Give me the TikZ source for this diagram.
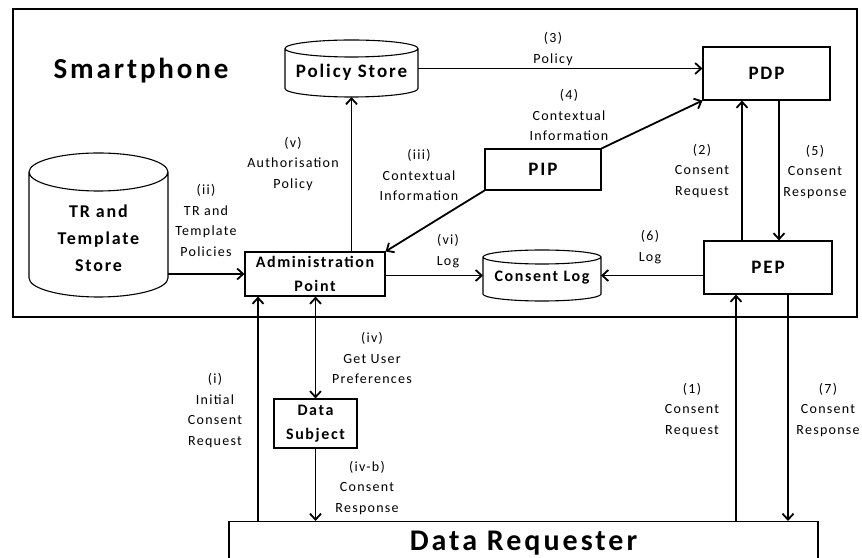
\documentclass[tikz,border=0pt]{standalone}
\usepackage{fontspec}
\setmainfont{Carlito}[LetterSpace=10]
\newfontfamily\lblfont{Carlito}[LetterSpace=9]
\usetikzlibrary{arrows.meta}

% vertical drum: left x, right x, top y, bottom y, rim radius
\newcommand\drumshape[5]{%
  \draw[line width=1.1pt] (#1,#3-#5) -- (#1,#4+#5)
    arc[start angle=180,end angle=360,x radius={(#2-#1)/2},y radius=#5]
    -- (#2,#3-#5)
    arc[start angle=0,end angle=360,x radius={(#2-#1)/2},y radius=#5];}

\begin{document}
\begin{tikzpicture}[x=1pt,y=1pt,
  box/.style={draw,line width=1.1pt,inner sep=0pt,align=center,
    font=\bfseries\fontsize{19}{21}\selectfont},
  smallbox/.style={box,font=\bfseries\fontsize{16}{24}\selectfont},
  hold/.style={draw=none,inner sep=0pt,outer sep=0pt},
  drumtext/.style={align=center,inner sep=0pt},
  lbl/.style={align=center,inner sep=0pt,font=\lblfont\fontsize{14}{20.5}\selectfont},
  tip/.tip={Straight Barb[length=6pt,width=11pt]},
  arr/.style={line width=1.8pt,-tip},
  dbl/.style={line width=1.8pt,tip-tip}]
\useasboundingbox (0,0) rectangle (862,557);
\clip (0,0) rectangle (862,557);

% smartphone frame
\node[draw,line width=1.5pt,inner sep=0pt,minimum width=844,minimum height=308,anchor=south west] (frame) at (12,239) {};
\node[anchor=base,font=\bfseries\fontsize{29}{30}\selectfont] (title) at (141,478) {Smartphone};

% stores (drums) with anchor holders
\drumshape{285}{418}{517}{460}{8.5}
\node[hold,minimum width=133,minimum height=57] (ps) at (351.5,488.5) {};
\node[drumtext,font=\bfseries\fontsize{19}{21}\selectfont] (pstext) at (351.5,485) {Policy Store};

\drumshape{29}{168}{404}{260}{19}
\node[hold,minimum width=139,minimum height=144] (tr) at (98.5,332) {};
\node[drumtext,font=\bfseries\fontsize{18}{27}\selectfont] (trtext) at (98.5,319) {TR and\\Template\\Store};

\drumshape{483}{601}{307}{256}{7}
\node[hold,minimum width=118,minimum height=51] (cl) at (542,281.5) {};
\node[drumtext,font=\bfseries\fontsize{16}{18}\selectfont] (cltext) at (542,279.5) {Consent Log};

% boxes
\node[box,minimum width=127,minimum height=53] (pdp) at (766.5,483.5) {PDP};
\node[box,minimum width=116,minimum height=41] (pip) at (543,387.5) {PIP};
\node[smallbox,minimum width=140,minimum height=44] (adm) at (315,283) {Administration\\Point};
\node[box,minimum width=128,minimum height=53] (pep) at (768,289.5) {PEP};
\node[smallbox,minimum width=83,minimum height=49] (ds) at (315.5,133.5) {Data\\Subject};
\node[draw,line width=1.1pt,anchor=north,minimum width=589,inner xsep=0pt,inner ysep=9pt,
  text height=20pt,text depth=40pt,font=\bfseries\fontsize{30}{32}\selectfont] (dr) at (523.5,36) {Data Requester};

% connectors
\draw[arr] (ps.east) -- (ps.east -| pdp.west);
\draw[arr] (pip.north east) -- (pdp.south west);
\draw[arr] (pip.south west) -- (adm.north east);
\draw[arr] (adm.north -| ps.south) -- (ps.south);
\draw[arr] (tr.east |- adm.west) -- (adm.west);
\draw[arr] (adm.east |- cl.west) -- (cl.west);
\draw[arr] (pep.west |- cl.east) -- (cl.east);
\draw[arr] ([xshift=-26pt]pep.north) -- ([xshift=-26pt]pep.north |- pdp.south);
\draw[arr] ([xshift=11pt]pep.north |- pdp.south) -- ([xshift=11pt]pep.north);
\draw[arr] ([xshift=-32pt]pep.south |- dr.north) -- ([xshift=-32pt]pep.south);
\draw[arr] ([xshift=20pt]pep.south) -- ([xshift=20pt]pep.south |- dr.north);
\draw[arr] ([xshift=-57pt]adm.south |- dr.north) -- ([xshift=-57pt]adm.south);
\draw[dbl] (adm.south -| ds.north) -- (ds.north);
\draw[arr] (ds.south) -- (ds.south |- dr.north);

% labels
\node[lbl] (l3) at (553,508) {(3)\\Policy};
\node[lbl] (l4) at (569,442) {(4)\\Contextual\\Information};
\node[lbl] (liii) at (419,382) {(iii)\\Contextual\\Information};
\node[lbl] (lv) at (293,393) {(v)\\Authorisation\\Policy};
\node[lbl] (lii) at (206,336.5) {(ii)\\TR and\\Template\\Policies};
\node[lbl] (lvi) at (448,306) {(vi)\\Log};
\node[lbl] (l6) at (650,310) {(6)\\Log};
\node[lbl] (l2) at (702,386) {(2)\\Consent\\Request};
\node[lbl] (l5) at (815,385) {(5)\\Consent\\Response};
\node[lbl] (li) at (215,146.5) {(i)\\Initial\\Consent\\Request};
\node[lbl] (liv) at (372,199) {(iv)\\Get User\\Preferences};
\node[lbl] (livb) at (367,69) {(iv-b)\\Consent\\Response};
\node[lbl] (l1) at (692,147) {(1)\\Consent\\Request};
\node[lbl] (l7) at (828,147) {(7)\\Consent\\Response};
\end{tikzpicture}
\end{document}
